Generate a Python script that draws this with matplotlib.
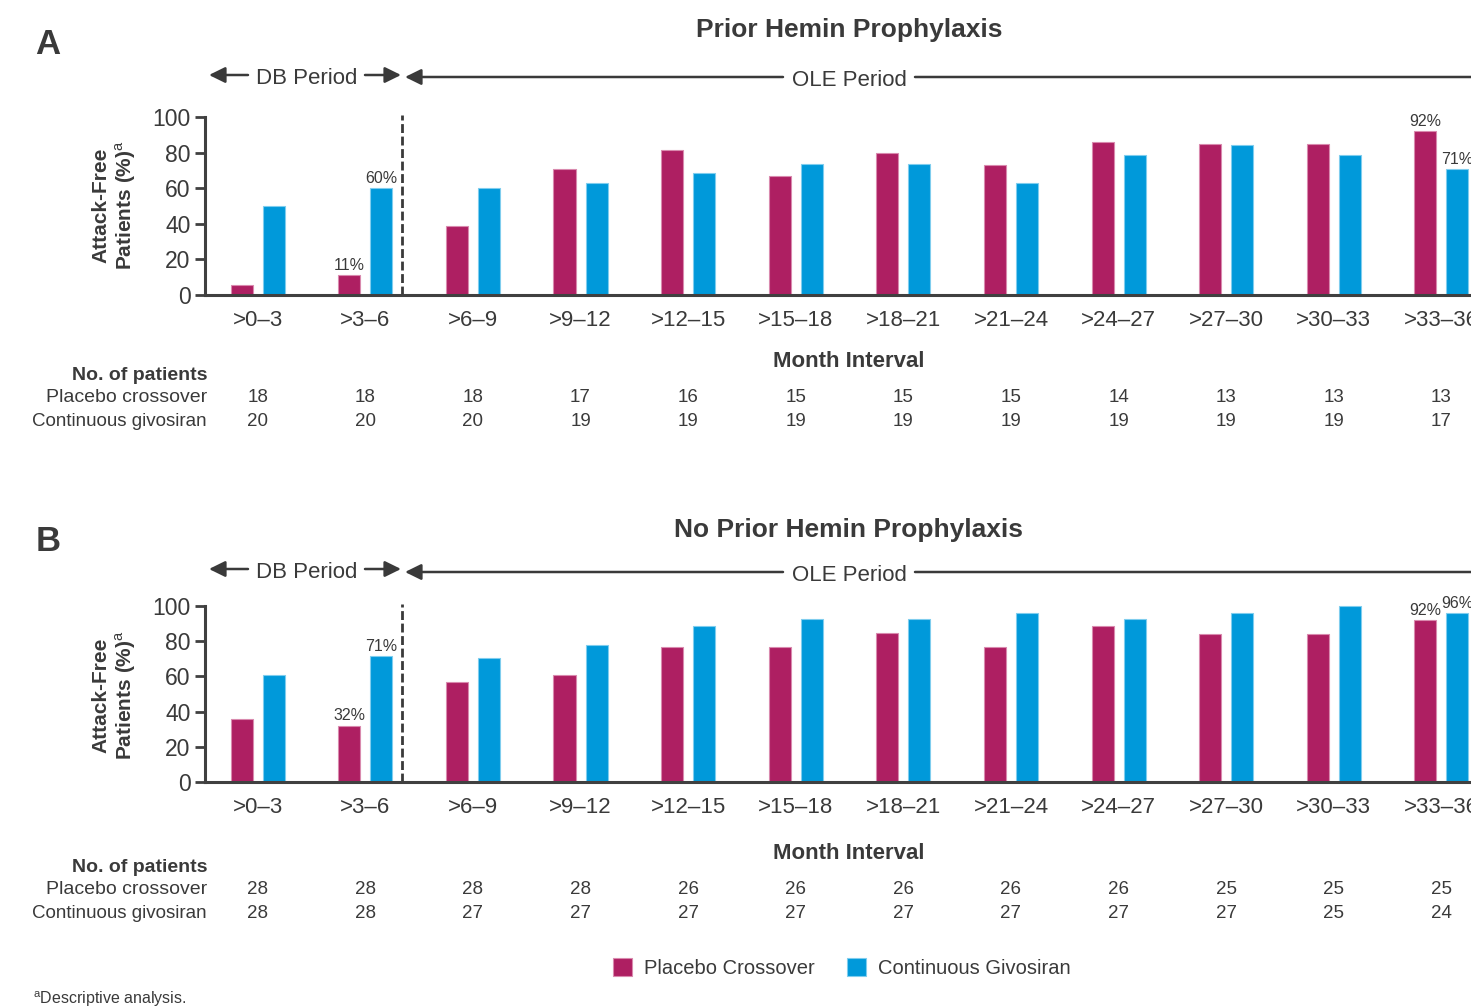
import matplotlib
matplotlib.use('Agg')
import matplotlib.pyplot as plt
from matplotlib.transforms import blended_transform_factory
from matplotlib.patches import Patch

plt.rcParams['font.family'] = ['Liberation Sans', 'DejaVu Sans']
plt.rcParams['mathtext.fontset'] = 'custom'
plt.rcParams['mathtext.rm'] = 'Liberation Sans'
plt.rcParams['mathtext.bf'] = 'Liberation Sans:bold'

# ---------------- data ----------------
intervals = ['>0–3', '>3–6', '>6–9', '>9–12', '>12–15', '>15–18', '>18–21',
             '>21–24', '>24–27', '>27–30', '>30–33', '>33–36']
series_names = ['Placebo Crossover', 'Continuous Givosiran']

prior_placebo = [5.6, 11.1, 38.9, 70.6, 81.3, 66.7, 80.0, 73.3, 85.7, 84.6, 84.6, 92.3]
prior_givosiran = [50.0, 60.0, 60.0, 63.2, 68.4, 73.7, 73.7, 63.2, 78.9, 84.2, 78.9, 70.6]
noprior_placebo = [35.7, 32.1, 57.1, 60.7, 76.9, 76.9, 84.6, 76.9, 88.5, 84.0, 84.0, 92.0]
noprior_givosiran = [60.7, 71.4, 70.4, 77.8, 88.9, 92.6, 92.6, 96.3, 92.6, 96.3, 100.0, 95.8]

prior_n_placebo = [18, 18, 18, 17, 16, 15, 15, 15, 14, 13, 13, 13]
prior_n_givosiran = [20, 20, 20, 19, 19, 19, 19, 19, 19, 19, 19, 17]
noprior_n_placebo = [28, 28, 28, 28, 26, 26, 26, 26, 26, 25, 25, 25]
noprior_n_givosiran = [28, 28, 27, 27, 27, 27, 27, 27, 27, 27, 25, 24]

labeled_idx = [1, 11]
yticks = [0, 20, 40, 60, 80, 100]

# ---------------- style ----------------
MAG = '#AE1F62'
BLU = '#0099DA'
TXT = '#3a3a3a'
W, H = 1471, 1007

fig = plt.figure(figsize=(W / 100, H / 100), dpi=100)


def fx(x):
    return x / W


def fy(y):
    return 1 - y / H


def arrow(ax, tail, head):
    ax.annotate('', xy=(fx(head[0]), fy(head[1])), xytext=(fx(tail[0]), fy(tail[1])),
                xycoords='figure fraction', textcoords='figure fraction',
                annotation_clip=False,
                arrowprops=dict(arrowstyle='-|>,head_length=0.65,head_width=0.32',
                                mutation_scale=15, lw=1.8, color=TXT,
                                shrinkA=0, shrinkB=0))


def panel(letter, title, pos, placebo, giv, n_pl, n_gv):
    y0, ytop = pos['axis0'], pos['axis100']
    ax = fig.add_axes([fx(205), fy(y0), fx(1506) - fx(205), (y0 - ytop) / H])
    x = list(range(len(intervals)))
    off, bw = 0.149, 0.205
    ax.bar([i - off for i in x], placebo, width=bw, color=MAG,
           edgecolor='#d98aae', linewidth=0.8, clip_on=False, zorder=2)
    ax.bar([i + off for i in x], giv, width=bw, color=BLU,
           edgecolor='#7fcdee', linewidth=0.8, clip_on=False, zorder=2)
    ax.set_xlim(-0.49, 11.6)
    ax.set_ylim(0, 100)
    for s in ['top', 'right']:
        ax.spines[s].set_visible(False)
    for s in ['left', 'bottom']:
        ax.spines[s].set_linewidth(2.2)
        ax.spines[s].set_color('#404040')
    ax.spines['bottom'].set_zorder(3)
    ax.set_yticks(yticks)
    ax.set_yticklabels([str(t) for t in yticks], fontsize=16.5, color=TXT)
    ax.set_xticks(x)
    ax.set_xticklabels(intervals, fontsize=16, color=TXT)
    ax.tick_params(axis='x', length=0, pad=11)
    ax.tick_params(axis='y', length=7, width=2, color='#404040', pad=3.5)
    ax.patch.set_alpha(0)

    # value labels
    for i in labeled_idx:
        ax.text(i - off, placebo[i] + 1.2, f'{round(placebo[i])}%', ha='center',
                va='bottom', fontsize=11.5, color=TXT, clip_on=False)
        ax.text(i + off, giv[i] + 1.2, f'{round(giv[i])}%', ha='center',
                va='bottom', fontsize=11.5, color=TXT, clip_on=False)

    # DB / OLE divider
    ax.plot([1.34, 1.34], [0, 101], ls=(0, (3.2, 1.3)), lw=2, color=TXT,
            clip_on=False, zorder=3)

    # titles
    fig.text(fx(48), fy(pos['letter']), letter, fontsize=25, fontweight='bold',
             color=TXT, ha='center', va='center_baseline')
    fig.text(fx(849), fy(pos['title']), title, fontsize=19, fontweight='bold',
             color=TXT, ha='center', va='center_baseline')

    # period arrows
    ydb, yole = pos['db'], pos['ole']
    arrow(ax, (248, ydb), (209, ydb))
    fig.text(fx(307), fy(ydb + 1), 'DB Period', fontsize=16, color=TXT,
             ha='center', va='center_baseline')
    arrow(ax, (365, ydb), (401, ydb))
    arrow(ax, (783, yole), (405, yole))
    fig.text(fx(849), fy(yole + 1), 'OLE Period', fontsize=16, color=TXT,
             ha='center', va='center_baseline')
    arrow(ax, (915, yole), (1530, yole))

    # y label
    fig.text(fx(115), fy(pos['ylabel']), 'Attack-Free\nPatients (%)$^{\\mathrm{a}}$',
             rotation=90, fontsize=15, fontweight='bold', color=TXT,
             ha='center', va='center', linespacing=1.15, multialignment='center')

    # x label and table
    fig.text(fx(849), fy(pos['month']), 'Month Interval', fontsize=16,
             fontweight='bold', color=TXT, ha='center', va='center_baseline')
    fig.text(fx(207), fy(pos['nop']), 'No. of patients', fontsize=14,
             fontweight='bold', color=TXT, ha='right', va='center_baseline')
    fig.text(fx(207), fy(pos['row1']), 'Placebo crossover', fontsize=14,
             color=TXT, ha='right', va='center_baseline')
    fig.text(fx(207), fy(pos['row2']), 'Continuous givosiran', fontsize=13.5,
             color=TXT, ha='right', va='center_baseline')
    tr = blended_transform_factory(ax.transData, fig.transFigure)
    for i in x:
        ax.text(i, fy(pos['row1']), str(n_pl[i]), transform=tr, ha='center',
                va='center_baseline', fontsize=13.5, color=TXT, clip_on=False)
        ax.text(i, fy(pos['row2']), str(n_gv[i]), transform=tr, ha='center',
                va='center_baseline', fontsize=13.5, color=TXT, clip_on=False)
    return ax


posA = dict(axis0=295, axis100=117, letter=41, title=28, db=75, ole=77,
            ylabel=205, month=359, nop=373, row1=396, row2=420)
posB = dict(axis0=782, axis100=606, letter=538, title=528, db=569, ole=572,
            ylabel=695, month=851, nop=865, row1=888, row2=912)

axA = panel('A', 'Prior Hemin Prophylaxis', posA, prior_placebo, prior_givosiran,
            prior_n_placebo, prior_n_givosiran)
axB = panel('B', 'No Prior Hemin Prophylaxis', posB, noprior_placebo, noprior_givosiran,
            noprior_n_placebo, noprior_n_givosiran)

handles = [Patch(facecolor=MAG, edgecolor='#d98aae', lw=0.8),
           Patch(facecolor=BLU, edgecolor='#7fcdee', lw=0.8)]
fig.legend(handles, series_names, loc='center', bbox_to_anchor=(fx(842), fy(968)),
           ncol=2, frameon=False, fontsize=14.5, handlelength=0.95, handleheight=0.95,
           handletextpad=0.6, columnspacing=1.6, labelcolor=TXT)

fig.text(fx(33), fy(997), '$^{\\mathrm{a}}$Descriptive analysis.', fontsize=11.5,
         color=TXT, ha='left', va='center_baseline')

fig.savefig('out.png', dpi=100)
